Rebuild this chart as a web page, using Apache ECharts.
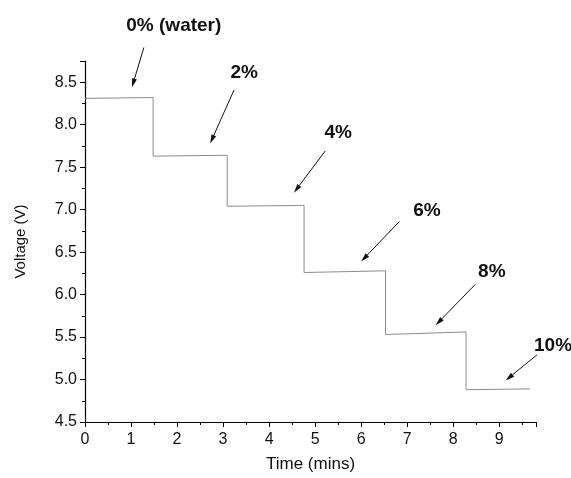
<!DOCTYPE html>
<html>
<head>
<meta charset="utf-8">
<script src="https://cdn.jsdelivr.net/npm/echarts@6/dist/echarts.min.js"></script>
<style>html,body{margin:0;padding:0;background:#fff;}#c{width:571px;height:478px;}</style>
</head>
<body>
<div id="c"></div>
<script>
// Step trace (corner points of the voltage staircase)
const timeMins = [0, 1.48, 1.48, 3.09, 3.09, 4.76, 4.76, 6.53, 6.53, 8.28, 8.28, 9.67];
const voltage  = [8.31, 8.32, 7.63, 7.64, 7.04, 7.05, 6.26, 6.28, 5.53, 5.56, 4.88, 4.89];

// Annotations (in data units)
const annoText  = ['0% (water)', '2%', '4%', '6%', '8%', '10%'];
const annoX     = [1.93, 3.46, 5.50, 7.43, 8.84, 10.17];
const annoY     = [9.17, 8.61, 7.91, 6.99, 6.27, 5.40];
const arrowFromX = [1.28, 3.24, 5.22, 6.83, 8.48, 9.82];
const arrowFromY = [8.91, 8.41, 7.69, 6.86, 6.12, 5.29];
const arrowToX   = [1.02, 2.72, 4.54, 6.00, 7.62, 9.14];
const arrowToY   = [8.44, 7.78, 7.20, 6.39, 5.64, 4.99];

const xTicks = [0,1,2,3,4,5,6,7,8,9];
const yTicks = [4.5,5.0,5.5,6.0,6.5,7.0,7.5,8.0,8.5];

const chart = echarts.init(document.getElementById('c'));
const font = 'Arial, "Liberation Sans", sans-serif';

chart.setOption({
  animation: false,
  backgroundColor: '#fff',
  grid: {left: 85, top: 61, width: 451, height: 362},
  xAxis: {
    type: 'value', min: 0, max: 9.8, interval: 1,
    name: 'Time (mins)', nameLocation: 'middle', nameGap: 34,
    nameTextStyle: {fontFamily: font, fontSize: 17, color: '#111'},
    axisLine: {show: true, onZero: false, lineStyle: {color: '#000', width: 1.2}},
    axisTick: {show: true, length: 5, inside: false, lineStyle: {color: '#000'}},
    minorTick: {show: true, splitNumber: 2, length: 3, lineStyle: {color: '#000'}},
    axisLabel: {fontFamily: font, fontSize: 16, color: '#111', margin: 10,
      formatter: v => xTicks.includes(v) ? String(v) : '', showMaxLabel: false},
    splitLine: {show: false}
  },
  yAxis: {
    type: 'value', min: 4.5, max: 8.75, interval: 0.5,
    name: 'Voltage (V)', nameLocation: 'middle', nameGap: 57,
    nameTextStyle: {fontFamily: font, fontSize: 15, color: '#111'},
    axisLine: {show: true, onZero: false, lineStyle: {color: '#000', width: 1.2}},
    axisTick: {show: true, length: 5, lineStyle: {color: '#000'}},
    minorTick: {show: true, splitNumber: 2, length: 3, lineStyle: {color: '#000'}},
    axisLabel: {fontFamily: font, fontSize: 16, color: '#111', margin: 8,
      formatter: v => yTicks.includes(Math.round(v*100)/100) ? v.toFixed(1) : '', showMaxLabel: false},
    splitLine: {show: false}
  },
  series: [
    {
      type: 'line',
      data: timeMins.map((t, i) => [t, voltage[i]]),
      showSymbol: false,
      symbol: 'none',
      lineStyle: {color: '#8c8c8c', width: 1},
      clip: false
    }
  ]
});

// Annotations drawn through the chart's own coordinate conversion
const toPx = (x, y) => chart.convertToPixel({gridIndex: 0}, [x, y]);
const graphics = [];
annoText.forEach((t, i) => {
  const p = toPx(annoX[i], annoY[i]);
  graphics.push({
    type: 'text', x: p[0], y: p[1], silent: true,
    style: {text: t, fontFamily: font, fontSize: 19, fontWeight: 'bold', fill: '#111',
      align: 'center', verticalAlign: 'middle'}
  });
  const a = toPx(arrowFromX[i], arrowFromY[i]);
  const b = toPx(arrowToX[i], arrowToY[i]);
  const dx = b[0] - a[0], dy = b[1] - a[1];
  const len = Math.sqrt(dx*dx + dy*dy);
  const ux = dx/len, uy = dy/len;
  const headL = 9, headW = 2.5;
  const bx = b[0] - ux*headL, by = b[1] - uy*headL;
  graphics.push({
    type: 'line', silent: true,
    shape: {x1: a[0], y1: a[1], x2: bx, y2: by},
    style: {stroke: '#111', lineWidth: 1}
  });
  graphics.push({
    type: 'polygon', silent: true,
    shape: {points: [[b[0], b[1]], [bx - uy*headW, by + ux*headW], [bx + uy*headW, by - ux*headW]]},
    style: {fill: '#111'}
  });
});
chart.setOption({graphic: graphics});
</script>
</body>
</html>
